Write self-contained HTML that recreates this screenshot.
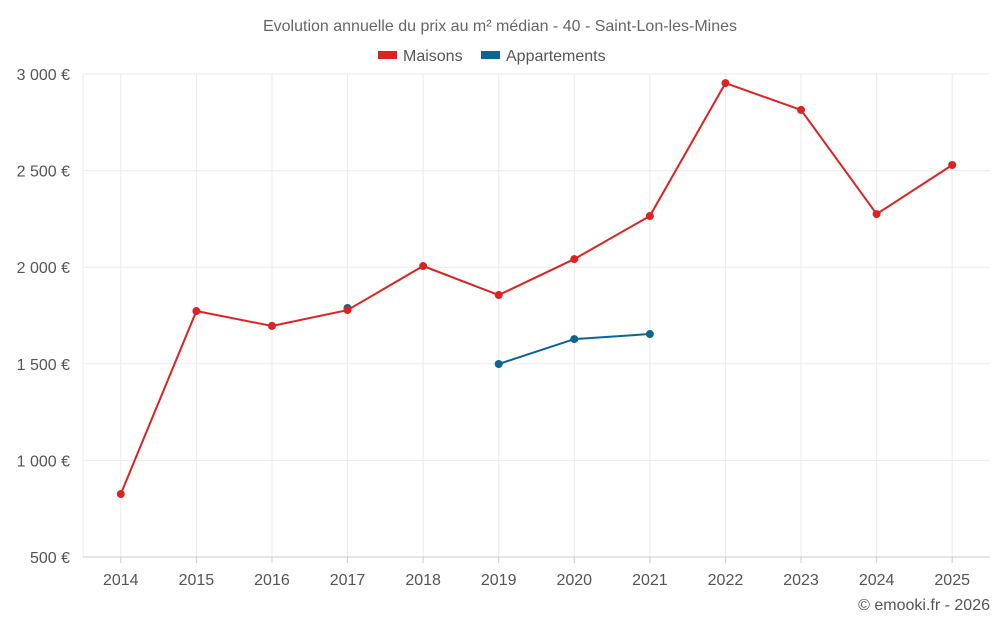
<!DOCTYPE html>
<html><head><meta charset="utf-8"><style>
body{margin:0;background:#fff;font-family:"Liberation Sans",sans-serif;}
svg text{font-family:"Liberation Sans",sans-serif;}
</style></head><body>
<svg id="chart" width="1000" height="625" xmlns="http://www.w3.org/2000/svg">
<text x="500" y="31" text-anchor="middle" font-size="16" fill="#666">Evolution annuelle du prix au m² médian - 40 - Saint-Lon-les-Mines</text>
<g><rect x="378" y="51" width="19" height="8" fill="#dd2222"/><text x="403" y="61" font-size="16" fill="#555">Maisons</text></g>
<g><rect x="481" y="51" width="19" height="8" fill="#0a6496"/><text x="506" y="61" font-size="16" fill="#555">Appartements</text></g>
<g id="grid"></g><g id="axes"></g><g id="series"></g>
<text x="990" y="610" text-anchor="end" font-size="16" fill="#555">© emooki.fr - 2026</text>
</svg>
<script>
const years=[2014,2015,2016,2017,2018,2019,2020,2021,2022,2023,2024,2025];
const maisons=[826,1773,1696,1778,2006,1856,2042,2265,2953,2814,2275,2529];
const apparts=[null,null,null,1789,null,1499,1628,1654,null,null,null,null];
const yTicks=[500,1000,1500,2000,2500,3000];
const yLabels=["500 €","1 000 €","1 500 €","2 000 €","2 500 €","3 000 €"];
const NS="http://www.w3.org/2000/svg";
const x0=83,x1=990,yTop=74,yBot=557,vMin=500,vMax=3000;
const step=(x1-x0)/years.length;
const xs=i=>x0+step*(i+0.5);
const ys=v=>yBot-(v-vMin)/(vMax-vMin)*(yBot-yTop);
function mk(t,a,p){const e=document.createElementNS(NS,t);for(const k in a)e.setAttribute(k,a[k]);p.appendChild(e);return e;}
const grid=document.getElementById('grid'),axes=document.getElementById('axes'),ser=document.getElementById('series');
yTicks.forEach((v,i)=>{
 const l=mk('line',{x1:x0,x2:x1,y1:ys(v),y2:ys(v),stroke:'#ebebeb'},grid);
 
 
 const t=mk('text',{x:70,y:ys(v)+6,'text-anchor':'end','font-size':16,fill:'#555'},axes);
 t.textContent=yLabels[i];
 
 
});
const edge=mk('line',{x1:x0,x2:x0,y1:yTop,y2:yBot,stroke:'#ebebeb'},grid);


years.forEach((y,i)=>{
 const l=mk('line',{x1:xs(i),x2:xs(i),y1:yTop,y2:yBot,stroke:'#ebebeb'},grid);
 
 
 const t=mk('text',{x:xs(i),y:585,'text-anchor':'middle','font-size':16,fill:'#555'},axes);
 t.textContent=y;
 
 
 const tk=mk('line',{x1:xs(i),x2:xs(i),y1:yBot,y2:yBot+6,stroke:'#ccc'},axes);
 
 
});
const ax=mk('line',{x1:x0,x2:x1,y1:yBot,y2:yBot,stroke:'#ccc'},axes);


function draw(data,color,name){
 let segs=[],cur=[];
 data.forEach((v,i)=>{if(v==null){if(cur.length)segs.push(cur);cur=[];}else cur.push([xs(i),ys(v)]);});
 if(cur.length)segs.push(cur);
 segs.forEach(s=>{if(s.length>1){const p=mk('polyline',{points:s.map(q=>q.join(',')).join(' '),fill:'none',stroke:color,'stroke-width':2},ser);
  
  }});
 data.forEach((v,i)=>{if(v==null)return;const c=mk('circle',{cx:xs(i),cy:ys(v),r:4,fill:color},ser);
  
  });
}
draw(apparts,'#0a6496','appartements');
draw(maisons,'#dd2222','maisons');
</script>
</body></html>
